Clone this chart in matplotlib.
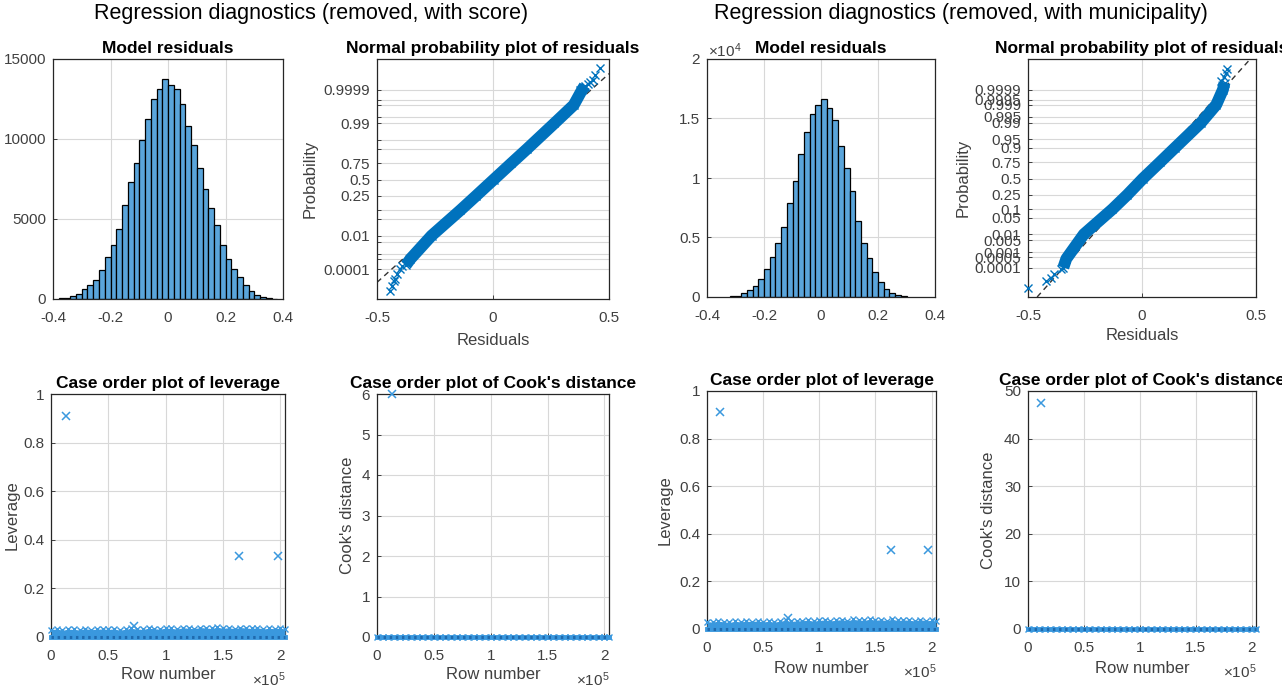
import numpy as np
import matplotlib
matplotlib.use("Agg")
import matplotlib.pyplot as plt
from matplotlib.ticker import FixedLocator, FuncFormatter, NullLocator
from statistics import NormalDist

plt.rcParams['font.family'] = ['Liberation Sans', 'DejaVu Sans']
plt.rcParams['mathtext.fontset'] = 'custom'
plt.rcParams['mathtext.rm'] = 'Liberation Sans'
plt.rcParams['mathtext.default'] = 'regular'

# ---------------- data ----------------
suptitle_score = "Regression diagnostics (removed, with score)"
suptitle_muni = "Regression diagnostics (removed, with municipality)"

# histogram of residuals (bin width 0.02)
hist_edges_score = np.round(np.arange(-0.38, 0.3801, 0.02), 2)
hist_counts_score = [40, 90, 200, 330, 600, 900, 1200, 1800, 2600, 3400,
                     4400, 5900, 7300, 8500, 9950, 11250, 12500, 13100, 13750, 13400,
                     13100, 12200, 10800, 9650, 8200, 6900, 5700, 4650, 3350, 2500,
                     1900, 1400, 900, 520, 230, 100, 50, 30]
hist_edges_muni = np.round(np.arange(-0.32, 0.3001, 0.02), 2)
hist_counts_muni = [50, 100, 300, 550, 950, 1550, 2350, 3350, 4550, 5900,
                    7900, 9750, 12000, 13850, 15400, 16100, 16600, 15900, 14900, 12700,
                    10800, 8900, 6400, 4550, 3250, 2100, 1250, 700, 300, 150, 60]

# normal probability plot: dense band of residual quantiles
prob_ticks = [0.0001, 0.0005, 0.001, 0.005, 0.01, 0.05, 0.1, 0.25, 0.5,
              0.75, 0.9, 0.95, 0.99, 0.995, 0.999, 0.9995, 0.9999]
prob_labels_all = ['0.0001', '0.0005', '0.001', '0.005', '0.01', '0.05', '0.1', '0.25', '0.5',
                   '0.75', '0.9', '0.95', '0.99', '0.995', '0.999', '0.9995', '0.9999']
prob_labels_score = ['0.0001', '', '', '', '0.01', '', '', '0.25', '0.5',
                     '0.75', '', '', '0.99', '', '', '', '0.9999']

band_p_score = [0.0002, 0.0005, 0.01, 0.1, 0.25, 0.5, 0.75, 0.9, 0.99, 0.999, 0.9999, 0.99995]
band_r_score = [-0.375, -0.356, -0.265, -0.142, -0.073, 0.003, 0.079, 0.148, 0.264, 0.348, 0.384, 0.395]
tail_r_score = [-0.392, -0.402, -0.414, -0.421, -0.428, -0.435, -0.443,
                0.377, 0.390, 0.398, 0.410, 0.420, 0.430, 0.441, 0.463]
tail_p_score = [0.00018, 0.0001, 0.000046, 0.000019, 0.000012, 0.0000054, 0.000002,
                0.99989, 0.99992, 0.999936, 0.99996, 0.999973, 0.99998, 0.9999923, 0.999998]
ref_r_score = [-0.5, 0.5]
ref_p_score = [0.0000102, 0.9999943]

band_p_muni = [0.0001, 0.0004, 0.01, 0.1, 0.25, 0.5, 0.75, 0.9, 0.99, 0.999, 0.9999, 0.99997]
band_r_muni = [-0.345, -0.332, -0.255, -0.130, -0.064, 0.004, 0.078, 0.144, 0.258, 0.326, 0.355, 0.362]
tail_r_muni = [-0.499, -0.420, -0.398, -0.385, -0.354, 0.348, 0.360, 0.368, 0.374]
tail_p_muni = [0.0000026, 0.0000093, 0.000017, 0.000035, 0.000075,
               0.9999784, 0.999990, 0.9999946, 0.9999976]
ref_r_muni = [-0.46, 0.475]
ref_p_muni = [0.00000037, 0.99999971]
prob_ylim = [0.00000037, 0.99999971]

# case order plots
n_rows = 204000
band_rows = list(range(0, 200001, 5000)) + [204000]
lev_band_score = [0.030, 0.033, 0.028, 0.032, 0.031, 0.029, 0.034, 0.030, 0.032, 0.033,
                  0.031, 0.033, 0.028, 0.032, 0.035, 0.033, 0.031, 0.036, 0.034, 0.032,
                  0.037, 0.035, 0.033, 0.038, 0.036, 0.034, 0.039, 0.037, 0.035, 0.040,
                  0.036, 0.038, 0.034, 0.039, 0.037, 0.035, 0.038, 0.033, 0.036, 0.034,
                  0.037, 0.032]
lev_band_muni = [0.031, 0.029, 0.033, 0.030, 0.028, 0.032, 0.030, 0.033, 0.031, 0.034,
                 0.030, 0.032, 0.029, 0.033, 0.036, 0.032, 0.034, 0.035, 0.037, 0.033,
                 0.036, 0.038, 0.034, 0.037, 0.039, 0.035, 0.040, 0.038, 0.036, 0.041,
                 0.037, 0.039, 0.035, 0.040, 0.036, 0.038, 0.037, 0.034, 0.039, 0.035,
                 0.036, 0.033]
cook_band = [0.0] * len(band_rows)

lev_out_rows_score = [13000, 72000, 164000, 198000]
lev_out_vals_score = [0.91, 0.045, 0.333, 0.333]
lev_out_rows_muni = [12000, 72000, 164000, 197000]
lev_out_vals_muni = [0.913, 0.045, 0.333, 0.333]
cook_out_rows_score = [13000]
cook_out_vals_score = [6.0]
cook_out_rows_muni = [12000]
cook_out_vals_muni = [47.4]

# ---------------- style ----------------
W, H = 1282, 690
fig = plt.figure(figsize=(W / 100, H / 100), dpi=100)

TXT = '#404040'
SPINE = '#262626'
GRID = '#D8D8D8'
HIST_FC = '#5AA5DB'
PROB_C = '#0072BD'
CASE_C = '#3A98DE'
TICK_FS = 11
LAB_FS = 12
TITLE_FS = 12.5

fmt_g = FuncFormatter(lambda v, p: f'{v:g}')
fmt_e4 = FuncFormatter(lambda v, p: f'{v / 1e4:g}')
fmt_e5 = FuncFormatter(lambda v, p: f'{v / 1e5:g}')


def px_axes(x0, y0, x1, y1):
    return fig.add_axes([x0 / W, 1 - y1 / H, (x1 - x0) / W, (y1 - y0) / H])


def style(ax, title):
    for s in ax.spines.values():
        s.set_color(SPINE)
        s.set_linewidth(0.9)
    ax.tick_params(direction='in', length=3, width=0.6, color=SPINE,
                   labelcolor=TXT, labelsize=TICK_FS, pad=5)
    ax.tick_params(axis='x', pad=8.5)
    ax.grid(True, color=GRID, linewidth=0.8)
    ax.set_axisbelow(True)
    ax.set_title(title, fontsize=TITLE_FS, fontweight='bold', pad=4)


def set_xlabel(ax, text, off_frac):
    ax.set_xlabel(text, fontsize=LAB_FS, color=TXT)
    ax.xaxis.set_label_coords(0.5, off_frac)
    ax.xaxis.label.set_va('center')


def set_ylabel(ax, text, off_frac):
    ax.set_ylabel(text, fontsize=LAB_FS, color=TXT)
    ax.yaxis.set_label_coords(off_frac, 0.5)
    ax.yaxis.label.set_va('center')


_nd = NormalDist()


def _ppf_one(v):
    if not np.isfinite(v):
        return np.nan
    v = min(max(v, 1e-15), 1 - 1e-15)
    return _nd.inv_cdf(v)


def _cdf_one(z):
    if not np.isfinite(z):
        return np.nan
    return _nd.cdf(z)


_ppf = np.vectorize(_ppf_one, otypes=[float])
_cdf = np.vectorize(_cdf_one, otypes=[float])


def hist_panel(ax, edges, counts, ylim, yticks, yfmt):
    style(ax, 'Model residuals')
    ax.bar(edges[:-1], counts, width=np.diff(edges), align='edge',
           color=HIST_FC, edgecolor='black', linewidth=0.9, zorder=2)
    ax.set_xlim(-0.4, 0.4)
    ax.set_ylim(*ylim)
    ax.xaxis.set_major_locator(FixedLocator([-0.4, -0.2, 0, 0.2, 0.4]))
    ax.xaxis.set_major_formatter(fmt_g)
    ax.yaxis.set_major_locator(FixedLocator(yticks))
    ax.yaxis.set_major_formatter(yfmt)


def prob_panel(ax, band_r, band_p, tail_r, tail_p, ref_r, ref_p, labels, ylab_off, xlab_off):
    style(ax, 'Normal probability plot of residuals')
    ax.set_yscale('function', functions=(_ppf, _cdf))
    ax.plot(ref_r, ref_p, color='#333333', linestyle=(0, (4, 3)), linewidth=1.0, zorder=2)
    ax.plot(band_r, band_p, color=PROB_C, linewidth=8.5, solid_capstyle='butt',
            solid_joinstyle='round', zorder=3)
    ax.plot(band_r, band_p, linestyle='none', marker='x', color=PROB_C,
            markersize=6, markeredgewidth=1.0, zorder=3)
    ax.plot(tail_r, tail_p, linestyle='none', marker='x', color=PROB_C,
            markersize=6, markeredgewidth=1.0, zorder=4, clip_on=False)
    ax.set_xlim(-0.5, 0.5)
    ax.set_ylim(*prob_ylim)
    ax.xaxis.set_major_locator(FixedLocator([-0.5, 0, 0.5]))
    ax.xaxis.set_major_formatter(fmt_g)
    ax.yaxis.set_major_locator(FixedLocator(prob_ticks))
    ax.yaxis.set_minor_locator(NullLocator())
    ax.set_yticklabels(labels)
    set_ylabel(ax, 'Probability', ylab_off)
    set_xlabel(ax, 'Residuals', xlab_off)


def case_panel(ax, title, band_vals, out_rows, out_vals, ylim, yticks, ylab, ylab_off, xlab_off,
               fill=True):
    style(ax, title)
    if fill:
        ax.fill_between(band_rows, 0, band_vals, color=CASE_C, linewidth=0, zorder=3)
    ax.plot(band_rows, band_vals, linestyle='none', marker='x', color=CASE_C,
            markersize=5, markeredgewidth=1.0, zorder=3, clip_on=False)
    ax.plot(band_rows, cook_band, color=CASE_C, linewidth=3.5, zorder=3, clip_on=False)
    ax.plot(band_rows, cook_band, color='#1F6AAE', linewidth=2.2,
            linestyle=(0, (0.8, 1.2)), zorder=4, clip_on=False)
    ax.plot(out_rows, out_vals, linestyle='none', marker='x', color=CASE_C,
            markersize=6, markeredgewidth=1.1, zorder=4, clip_on=False)
    ax.set_xlim(0, n_rows)
    ax.set_ylim(*ylim)
    ax.xaxis.set_major_locator(FixedLocator([0, 50000, 100000, 150000, 200000]))
    ax.xaxis.set_major_formatter(fmt_e5)
    ax.yaxis.set_major_locator(FixedLocator(yticks))
    ax.yaxis.set_major_formatter(fmt_g)
    set_ylabel(ax, ylab, ylab_off)
    set_xlabel(ax, 'Row number', xlab_off)
    ax.annotate('×10$^{5}$', xy=(1, 0), xycoords='axes fraction', xytext=(0, -43),
                textcoords='offset pixels', ha='right', va='center',
                fontsize=TICK_FS, color=TXT)


# ---------------- panels ----------------
fig.text(311 / W, 1 - 14 / H, suptitle_score, ha='center', va='center', fontsize=15.5, color='black')
fig.text(961 / W, 1 - 14 / H, suptitle_muni, ha='center', va='center', fontsize=15.5, color='black')

a1 = px_axes(53, 59, 283, 299)
hist_panel(a1, hist_edges_score, hist_counts_score, (0, 15000), [0, 5000, 10000, 15000], fmt_g)

a2 = px_axes(377, 59, 609, 299)
prob_panel(a2, band_r_score, band_p_score, tail_r_score, tail_p_score, ref_r_score, ref_p_score,
           prob_labels_score, -0.289, -0.171)

a3 = px_axes(707, 59, 935, 297)
hist_panel(a3, hist_edges_muni, hist_counts_muni, (0, 20000), [0, 5000, 10000, 15000, 20000], fmt_e4)
a3.annotate('×10$^{4}$', xy=(0, 1), xycoords='axes fraction', xytext=(1, 8),
            textcoords='offset pixels', ha='left', va='center', fontsize=TICK_FS, color=TXT)

a4 = px_axes(1028, 59, 1256, 297)
prob_panel(a4, band_r_muni, band_p_muni, tail_r_muni, tail_p_muni, ref_r_muni, ref_p_muni,
           prob_labels_all, -0.285, -0.16)

b1 = px_axes(51, 394, 285, 637)
case_panel(b1, 'Case order plot of leverage', lev_band_score, lev_out_rows_score, lev_out_vals_score,
           (0, 1), [0, 0.2, 0.4, 0.6, 0.8, 1], 'Leverage', -0.167, -0.156)

b2 = px_axes(377, 394, 609, 637)
case_panel(b2, "Case order plot of Cook's distance", cook_band, cook_out_rows_score, cook_out_vals_score,
           (0, 6), [0, 1, 2, 3, 4, 5, 6], "Cook's distance", -0.129, -0.156, fill=False)

b3 = px_axes(707, 391, 936, 629)
case_panel(b3, 'Case order plot of leverage', lev_band_muni, lev_out_rows_muni, lev_out_vals_muni,
           (0, 1), [0, 0.2, 0.4, 0.6, 0.8, 1], 'Leverage', -0.183, -0.164)

b4 = px_axes(1028, 391, 1256, 629)
case_panel(b4, "Case order plot of Cook's distance", cook_band, cook_out_rows_muni, cook_out_vals_muni,
           (0, 50), [0, 10, 20, 30, 40, 50], "Cook's distance", -0.175, -0.164, fill=False)

fig.savefig('out.png', dpi=100, facecolor='white')
